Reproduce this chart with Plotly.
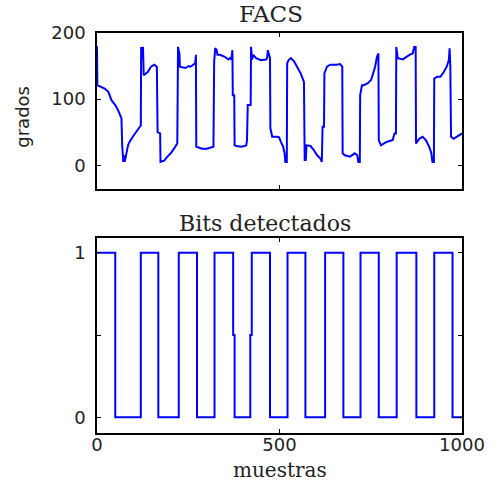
import plotly.graph_objects as go

# FACS angle (grados) vs muestras
facs_x = [0, 1, 21, 31, 40, 50, 58, 67, 69, 72, 74, 76, 85, 89, 98, 107, 116, 120,
          121, 124, 126, 128, 139, 148, 157, 164, 166, 173, 174, 184, 193, 202, 211, 220,
          222, 226, 227, 242, 251, 256, 269, 271, 272, 288, 301, 319, 321, 324, 328, 330,
          337, 350, 360, 364, 368, 371, 372, 376, 377, 382, 396, 409, 411, 413, 421, 422,
          425, 428, 436, 449, 463, 466, 468, 474, 475, 480, 493, 499, 504, 510, 514, 516,
          520, 521, 525, 531, 540, 549, 558, 567, 569, 572, 574, 585, 594, 603, 612, 616,
          618, 622, 623, 630, 639, 657, 666, 672, 673, 679, 693, 706, 713, 716, 720, 721,
          726, 731, 742, 751, 756, 762, 767, 771, 772, 778, 792, 810, 815, 819, 820, 824,
          838, 856, 865, 869, 873, 874, 883, 892, 901, 910, 916, 919, 923, 924, 932, 941,
          950, 958, 964, 966, 968, 970, 977, 991, 1000]
facs_y = [180, 121, 116, 111, 98, 91, 83, 71, 30, 5, 15, 5, 30, 35, 43, 50, 58, 60,
          179, 160, 179, 136, 141, 149, 152, 149, 50, 48, 5, 7, 13, 18, 25, 33,
          179, 168, 149, 147, 150, 149, 154, 167, 28, 25, 25, 28, 157, 177, 174, 167,
          167, 164, 160, 162, 160, 174, 106, 106, 30, 29, 28, 30, 38, 91, 91, 179,
          160, 167, 162, 159, 160, 162, 174, 162, 56, 43, 43, 42, 35, 28, 18, 5,
          5, 154, 159, 162, 157, 147, 139, 126, 8, 8, 30, 29, 23, 15, 10, 5,
          58, 58, 139, 149, 152, 152, 153, 149, 18, 15, 13, 18, 15, 5, 5, 106,
          121, 121, 124, 129, 139, 149, 164, 169, 38, 30, 35, 38, 48, 48, 179, 162,
          160, 167, 169, 179, 179, 33, 40, 43, 38, 28, 18, 5, 5, 131, 134, 134,
          141, 149, 159, 177, 150, 43, 40, 45, 48]

# Bits detectados (step)
bit_x = [0, 50, 120, 168, 224, 274, 322, 373, 377, 420, 424, 474, 522, 571, 625,
         675, 722, 772, 821, 875, 924, 974, 1000]
bit_y = [1, 0, 1, 0, 1, 0, 1, 0.5, 0, 0.5, 1, 0, 1, 0, 1, 0, 1, 0, 1, 0, 1, 0, 0]

x_ticks = [0, 500, 1000]
x_ticktext = ["0", "500", "1000"]
top_y_ticks = [0, 100, 200]
bot_y_ticks = [0, 0.5, 1]
bot_y_ticktext = ["0", "", "1"]

blue = "#0000FF"
tickfont = dict(family="DejaVu Sans", size=18, color="#222222")
serif = "DejaVu Serif"

fig = go.Figure()
fig.add_trace(go.Scatter(x=facs_x, y=facs_y, mode="lines",
                         line=dict(color=blue, width=2), xaxis="x", yaxis="y",
                         showlegend=False))
fig.add_trace(go.Scatter(x=bit_x, y=bit_y, mode="lines",
                         line=dict(color=blue, width=2, shape="hv"),
                         xaxis="x2", yaxis="y2", showlegend=False))

axis_common = dict(showline=True, linecolor="black", linewidth=1.5, mirror="ticks",
                   ticks="inside", ticklen=4, tickcolor="black", showgrid=False,
                   zeroline=False, tickfont=tickfont)

fig.update_layout(
    width=497, height=482,
    margin=dict(l=97, r=30, t=33, b=49),
    paper_bgcolor="white", plot_bgcolor="white",
    xaxis=dict(domain=[0, 1], range=[0, 1000], tickvals=x_ticks, showticklabels=False,
               anchor="y", **axis_common),
    yaxis=dict(domain=[0.61, 1], range=[-36, 200], tickvals=top_y_ticks,
               anchor="x", ticklabelstandoff=6, **axis_common),
    xaxis2=dict(domain=[0, 1], range=[0, 1000], tickvals=x_ticks, ticktext=x_ticktext,
                anchor="y2", ticklabelstandoff=-5, **axis_common),
    yaxis2=dict(domain=[0, 0.4875], range=[-0.095, 1.09], tickvals=bot_y_ticks,
                ticktext=bot_y_ticktext, anchor="x2", ticklabelstandoff=6, **axis_common),
    annotations=[
        dict(text="FACS", x=0.476, y=1.0475, xref="paper", yref="paper",
             xanchor="center", yanchor="middle", showarrow=False,
             font=dict(family=serif, size=23, color="#222222")),
        dict(text="Bits detectados", x=0.46, y=0.525, xref="paper", yref="paper",
             xanchor="center", yanchor="middle", showarrow=False,
             font=dict(family=serif, size=22, color="#222222")),
        dict(text="muestras", x=0.5, y=-0.093, xref="paper", yref="paper",
             xanchor="center", yanchor="middle", showarrow=False,
             font=dict(family=serif, size=20, color="#222222")),
        dict(text="grados", x=-0.2035, y=0.79, xref="paper", yref="paper",
             xanchor="center", yanchor="middle", showarrow=False, textangle=-90,
             font=dict(family="DejaVu Sans", size=18, color="#222222")),
    ],
)

fig.write_html("out.html")
